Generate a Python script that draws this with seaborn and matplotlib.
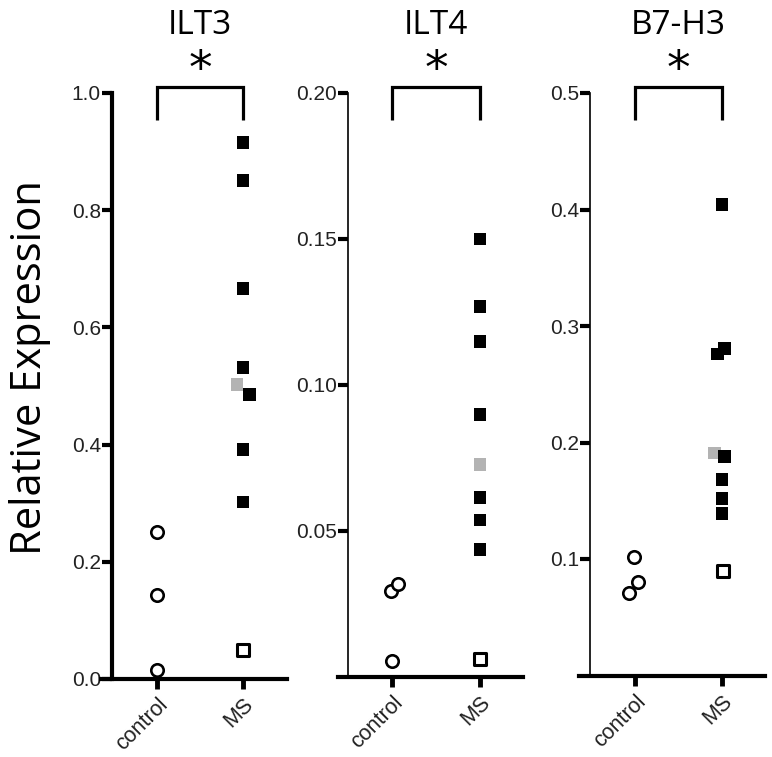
import pandas as pd
import matplotlib
matplotlib.use("Agg")
from matplotlib import pyplot as plt
import seaborn as sns

genes = ["ILT3", "ILT4", "B7-H3"]
groups = ["control", "MS"]

# control samples (open circles)
ilt3_control = [0.251, 0.143, 0.016]
ilt4_control = [0.0295, 0.0318, 0.0055]
b7h3_control = [0.102, 0.080, 0.071]

# MS samples (filled black squares)
ilt3_ms = [0.916, 0.850, 0.667, 0.531, 0.486, 0.392, 0.302]
ilt4_ms = [0.150, 0.127, 0.115, 0.090, 0.0616, 0.0538, 0.0438]
b7h3_ms = [0.404, 0.281, 0.276, 0.188, 0.168, 0.152, 0.139]

# MS grey square / MS open square
ilt3_ms_grey = [0.503]
ilt4_ms_grey = [0.0729]
b7h3_ms_grey = [0.191]
ilt3_ms_open = [0.050]
ilt4_ms_open = [0.0062]
b7h3_ms_open = [0.090]

ilt3_ticks = [0.0, 0.2, 0.4, 0.6, 0.8, 1.0]
ilt4_ticks = [0.05, 0.10, 0.15, 0.20]
b7h3_ticks = [0.1, 0.2, 0.3, 0.4, 0.5]
ilt3_ticklabels = ["0.0", "0.2", "0.4", "0.6", "0.8", "1.0"]
ilt4_ticklabels = ["0.05", "0.10", "0.15", "0.20"]
b7h3_ticklabels = ["0.1", "0.2", "0.3", "0.4", "0.5"]
ymax = [1.0, 0.20, 0.5]

panels = [
    (ilt3_control, ilt3_ms, ilt3_ms_grey, ilt3_ms_open, ilt3_ticks, ilt3_ticklabels),
    (ilt4_control, ilt4_ms, ilt4_ms_grey, ilt4_ms_open, ilt4_ticks, ilt4_ticklabels),
    (b7h3_control, b7h3_ms, b7h3_ms_grey, b7h3_ms_open, b7h3_ticks, b7h3_ticklabels),
]

# small horizontal scatter of the points, as in the original figure
shift_control = [[0, 0, 0], [-0.01, 0.07, 0], [-0.01, 0.03, -0.07]]
shift_ms = [[0, 0, 0, 0, 0.08, 0, 0],
            [0, 0, 0, 0, 0, 0, 0],
            [0, 0.03, -0.05, 0.03, 0, 0, 0]]
shift_grey = [[-0.07], [0], [-0.09]]
shift_open = [[0], [0], [0.01]]

# axes boxes in pixels: left, right, bottom, y-spine x, control x, MS x
boxes = [(101, 287, 679, 112, 157, 243),
         (338, 523, 677, 348, 392, 480),
         (579, 765, 675.5, 590, 635, 722)]
W, H = 772, 757
spine_w = [3.0, 1.2, 1.2]

sns.set_style("ticks")
plt.rcParams["font.family"] = ["Open Sans", "DejaVu Sans"]
plt.rcParams["text.color"] = "black"
plt.rcParams["axes.labelcolor"] = "black"

fig = plt.figure(figsize=(W / 100, H / 100), dpi=100)

for i, (ctrl, ms, grey, opn, ticks, ticklabels) in enumerate(panels):
    x0, x1, yb, xs, cx, mx = boxes[i]
    ax = fig.add_axes([x0 / W, 1 - yb / H, (x1 - x0) / W, (yb - 93) / H])

    df_c = pd.DataFrame({"x": [0 + d for d in shift_control[i]], "y": ctrl})
    df_m = pd.DataFrame({"x": [1 + d for d in shift_ms[i]], "y": ms})
    df_g = pd.DataFrame({"x": [1 + d for d in shift_grey[i]], "y": grey})
    df_o = pd.DataFrame({"x": [1 + d for d in shift_open[i]], "y": opn})

    sns.scatterplot(data=df_c, x="x", y="y", ax=ax, marker="o", s=80,
                    facecolor="white", edgecolor="black", linewidth=1.9, clip_on=False, zorder=3)
    sns.scatterplot(data=df_m, x="x", y="y", ax=ax, marker="s", s=85,
                    color="black", edgecolor="none", linewidth=0, clip_on=False, zorder=3)
    sns.scatterplot(data=df_g, x="x", y="y", ax=ax, marker="s", s=85,
                    color="#b3b3b3", edgecolor="none", linewidth=0, clip_on=False, zorder=2)
    sns.scatterplot(data=df_o, x="x", y="y", ax=ax, marker="s", s=70,
                    facecolor="white", edgecolor="black", linewidth=2.2, clip_on=False, zorder=3)

    ppu = mx - cx
    ax.set_xlim(-(cx - x0) / ppu, 1 + (x1 - mx) / ppu)
    ax.set_ylim(0, ymax[i])

    ax.set_xticks([0, 1])
    ax.set_xticklabels(groups, rotation=45, ha="right", rotation_mode="anchor")
    ax.set_yticks(ticks)
    ax.set_yticklabels(ticklabels)
    ax.set_xlabel("")
    ax.set_ylabel("")

    for s in ["top", "right"]:
        ax.spines[s].set_visible(False)
    ax.spines["left"].set_position(("axes", (xs - x0) / (x1 - x0)))
    ax.spines["left"].set_linewidth(spine_w[i])
    ax.spines["left"].set_color("black")
    ax.spines["bottom"].set_linewidth(3.0)
    ax.spines["bottom"].set_color("black")
    ax.tick_params(axis="y", direction="out", length=7, width=3, pad=1,
                   colors="black", labelsize=15)
    ax.tick_params(axis="x", direction="out", length=7, width=3.5, pad=4,
                   colors="black", labelsize=15.5)
    for lab in ax.get_xticklabels() + ax.get_yticklabels():
        lab.set_family(["Liberation Sans", "DejaVu Sans"])
        lab.set_color("#222222")

    # significance bracket
    top = ymax[i] * 1.01
    leg = ymax[i] * 0.954
    ax.plot([0, 0, 1, 1], [leg, top, top, leg], color="black", lw=2.3,
            clip_on=False, solid_capstyle="butt", solid_joinstyle="miter")
    ax.annotate("*", xy=(0.5, 1 - 70 / H), xycoords=("data", "figure fraction"),
                ha="center", va="center", fontsize=34, family="DejaVu Sans")
    ax.annotate(genes[i], xy=(0.5, 1 - 26 / H), xycoords=("data", "figure fraction"),
                ha="center", va="center", fontsize=24)

fig.text(30 / W, 1 - 368 / H, "Relative Expression", rotation=90,
         ha="center", va="center", fontsize=30)

fig.savefig("out.png", dpi=100)
